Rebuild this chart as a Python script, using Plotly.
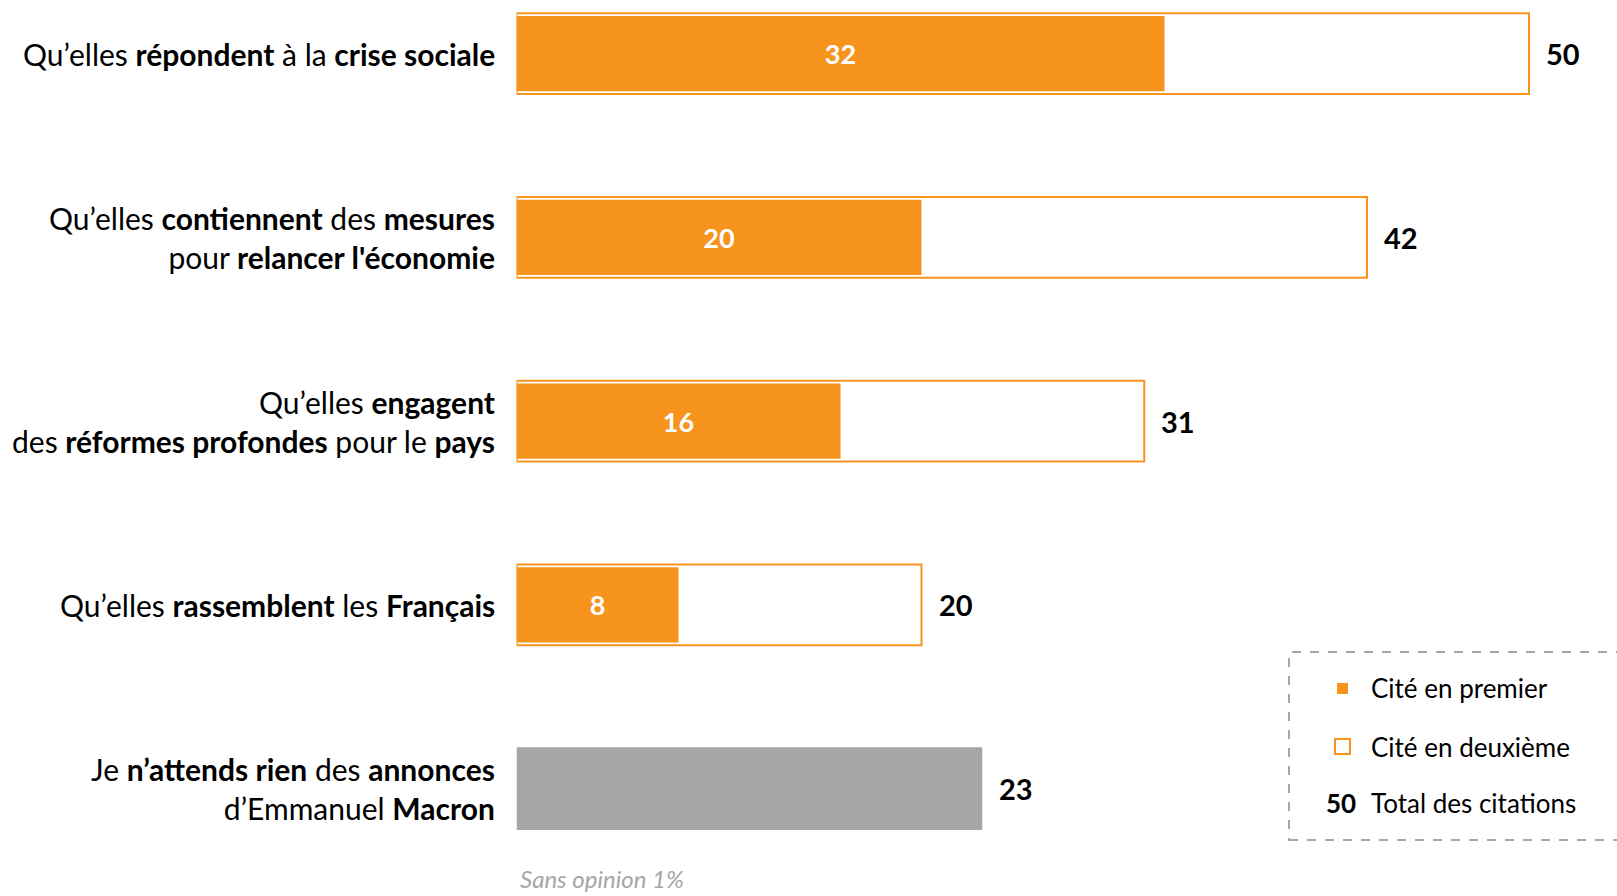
import plotly.graph_objects as go

categories = [
    "Qu’elles <b>répondent</b> à la <b>crise sociale</b>",
    "Qu’elles <b>contiennent</b> des <b>mesures</b><br>pour <b>relancer l'économie</b>",
    "Qu’elles <b>engagent</b><br>des <b>réformes profondes</b> pour le <b>pays</b>",
    "Qu’elles <b>rassemblent</b> les <b>Français</b>",
    "Je <b>n’attends rien</b> des <b>annonces</b><br>d’Emmanuel <b>Macron</b>",
]
first_cited = [32, 20, 16, 8, None]
total_cited = [50, 42, 31, 20, None]
nothing_value = [None, None, None, None, 23]
note_text = "Sans opinion 1%"
legend_labels = ["Cité en premier", "Cité en deuxième", "Total des citations"]
legend_total_example = "50"

ORANGE = "#F7941D"
GRAY = "#A6A6A6"
FONT = "Lato"
W, H = 1617, 896

ypos = list(range(len(categories)))

fig = go.Figure()
# total bars (white fill, orange outline)
fig.add_trace(go.Bar(
    y=ypos, x=total_cited, orientation="h", width=0.44,
    marker=dict(color="white", line=dict(color=ORANGE, width=2)),
    hoverinfo="skip", showlegend=False,
))
# first-cited bars
fig.add_trace(go.Bar(
    y=ypos, x=first_cited, orientation="h", width=0.41,
    marker=dict(color=ORANGE, line=dict(width=0)),
    text=[f"<b>{v}</b>" if v is not None else "" for v in first_cited],
    textposition="inside", insidetextanchor="middle",
    textfont=dict(color="white", size=27, family=FONT),
    hoverinfo="skip", showlegend=False,
))
# "nothing" bar
fig.add_trace(go.Bar(
    y=ypos, x=nothing_value, orientation="h", width=0.45,
    marker=dict(color=GRAY, line=dict(width=0)),
    hoverinfo="skip", showlegend=False,
))

annotations = []
for i, lab in enumerate(categories):
    annotations.append(dict(
        x=0, y=i, xref="x", yref="y", text=lab, showarrow=False,
        xanchor="right", yanchor="middle", align="right", xshift=-20,
        font=dict(size=30, color="black", family=FONT),
    ))
    tot = total_cited[i] if total_cited[i] is not None else nothing_value[i]
    annotations.append(dict(
        x=tot, y=i, xref="x", yref="y", text=f"<b>{tot}</b>", showarrow=False,
        xanchor="left", yanchor="middle", xshift=15,
        font=dict(size=29, color="black", family=FONT),
    ))

annotations.append(dict(
    x=0, y=4.49, xref="x", yref="y", text=f"<i>{note_text}</i>", showarrow=False,
    xanchor="left", yanchor="middle", xshift=1,
    font=dict(size=24, color="#A6A6A6", family=FONT),
))

def px_x(p):
    return p / W

def px_y(p):
    return 1 - p / H

# legend box
shapes = [
    dict(type="rect", xref="paper", yref="paper",
         x0=px_x(1289), x1=px_x(1660), y0=px_y(840), y1=px_y(652),
         line=dict(color=GRAY, width=2, dash="dash"), fillcolor="rgba(0,0,0,0)"),
    dict(type="rect", xref="paper", yref="paper",
         x0=px_x(1337), x1=px_x(1348), y0=px_y(694), y1=px_y(683),
         line=dict(width=0), fillcolor=ORANGE),
    dict(type="rect", xref="paper", yref="paper",
         x0=px_x(1335), x1=px_x(1350), y0=px_y(754), y1=px_y(739),
         line=dict(color=ORANGE, width=2), fillcolor="white"),
]
leg_y = [688, 747, 803]
for t, yy in zip(legend_labels, leg_y):
    annotations.append(dict(
        x=px_x(1369), y=px_y(yy), xref="paper", yref="paper", text=t,
        showarrow=False, xanchor="left", yanchor="middle",
        font=dict(size=26, color="black", family=FONT),
    ))
annotations.append(dict(
    x=px_x(1341), y=px_y(803), xref="paper", yref="paper",
    text=f"<b>{legend_total_example}</b>", showarrow=False,
    xanchor="center", yanchor="middle",
    font=dict(size=26, color="black", family=FONT),
))

X0, X50 = 516.5, 1529.0
px_per_unit = (X50 - X0) / 50
x_max = (W - X0) / px_per_unit
Y0, Y4 = 53.6, 788.7
py_per_unit = (Y4 - Y0) / 4
y_top = -Y0 / py_per_unit
y_bot = 4 + (H - Y4) / py_per_unit

fig.update_layout(
    width=W, height=H, barmode="overlay",
    margin=dict(l=0, r=0, t=0, b=0),
    paper_bgcolor="white", plot_bgcolor="white",
    xaxis=dict(domain=[X0 / W, 1], range=[0, x_max], visible=False, fixedrange=True),
    yaxis=dict(range=[y_bot, y_top], visible=False, fixedrange=True),
    annotations=annotations, shapes=shapes,
    font=dict(family=FONT),
)

fig.write_html(
    "out.html",
    config={"displayModeBar": False},
    post_script="document.body.style.margin='0';document.body.style.overflow='hidden';",
)
